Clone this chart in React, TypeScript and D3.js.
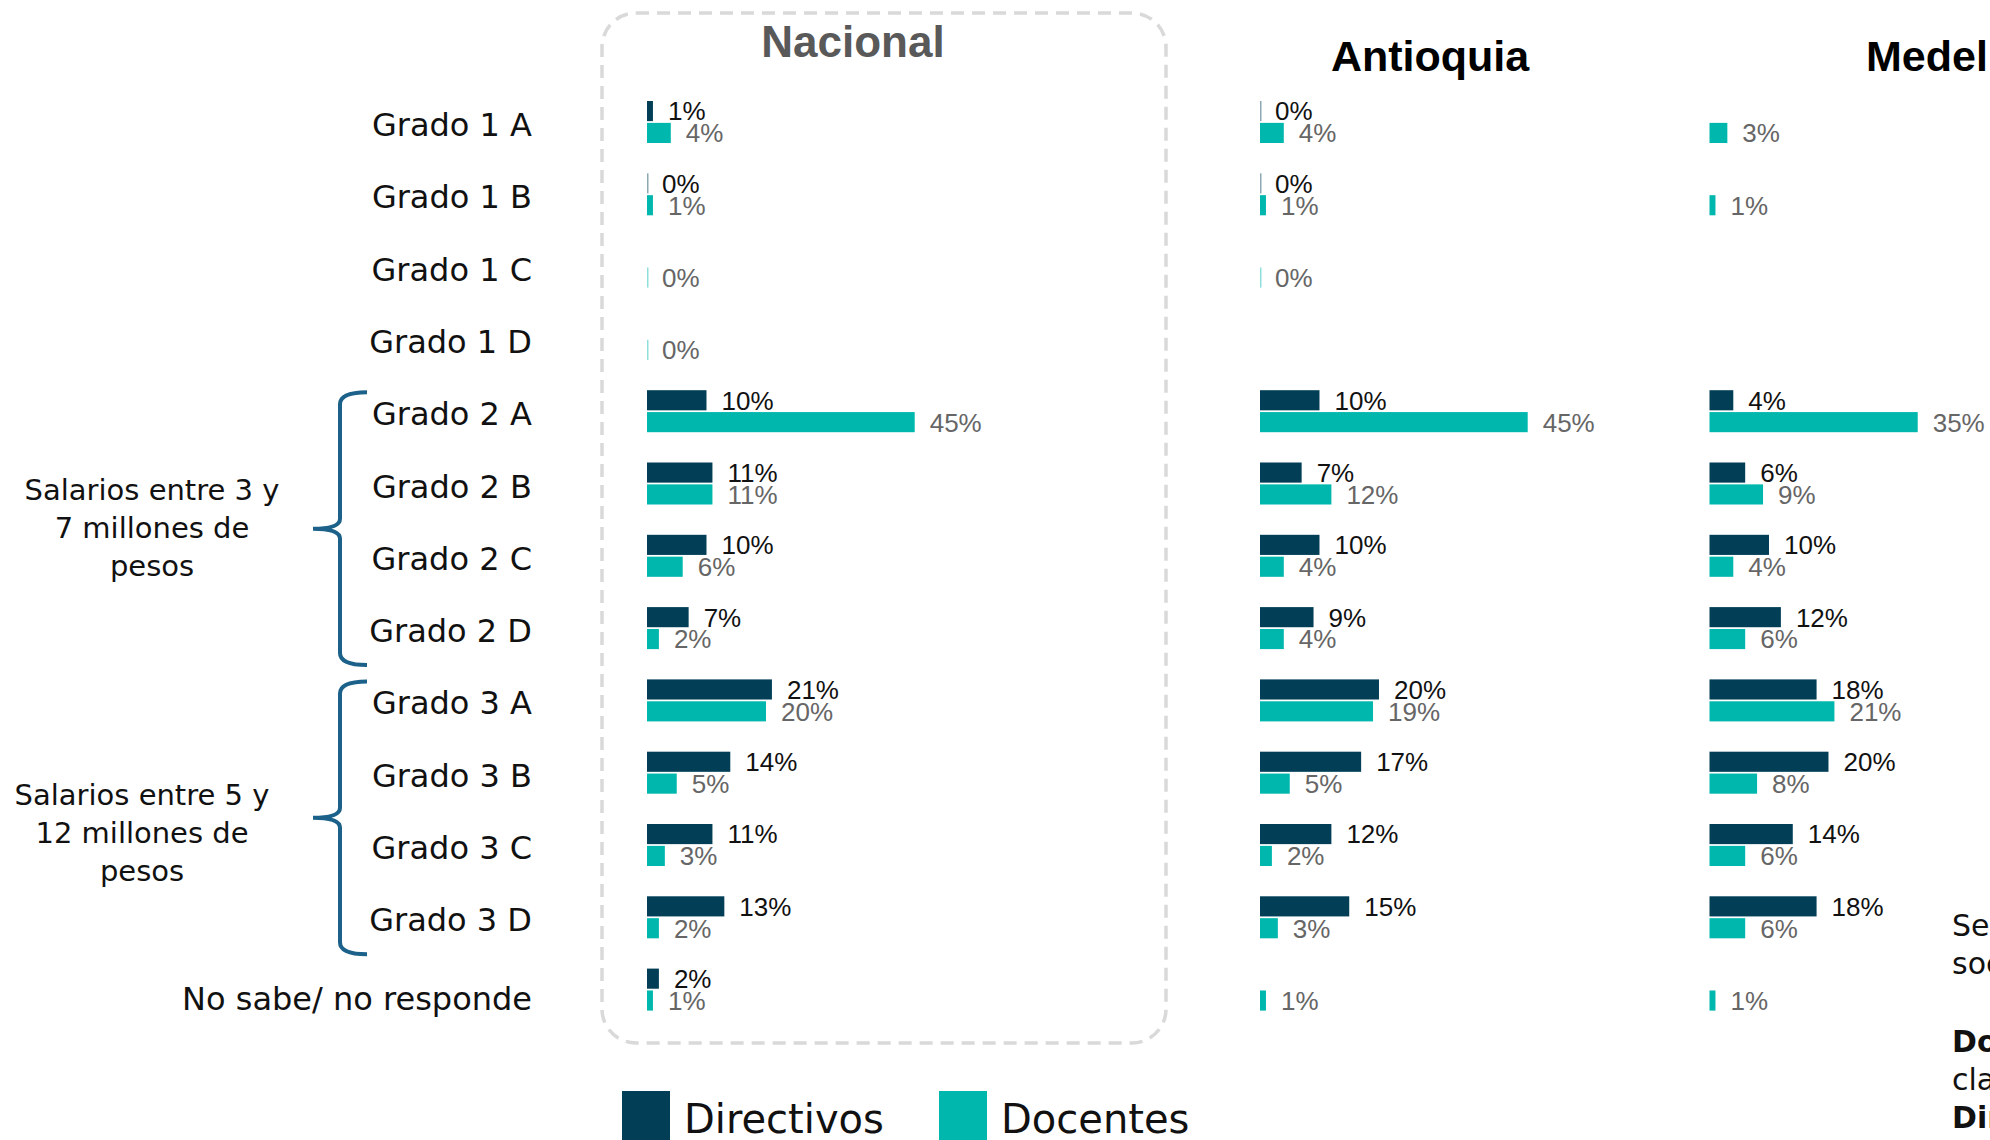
import React, { useEffect } from "react";
import * as d3 from "d3";

const categories = [
  "Grado 1 A", "Grado 1 B", "Grado 1 C", "Grado 1 D",
  "Grado 2 A", "Grado 2 B", "Grado 2 C", "Grado 2 D",
  "Grado 3 A", "Grado 3 B", "Grado 3 C", "Grado 3 D",
  "No sabe/ no responde",
];
const series = ["Directivos", "Docentes"];

const nacionalDirectivos = [1, 0, null, null, 10, 11, 10, 7, 21, 14, 11, 13, 2];
const nacionalDocentes = [4, 1, 0, 0, 45, 11, 6, 2, 20, 5, 3, 2, 1];
const antioquiaDirectivos = [0, 0, null, null, 10, 7, 10, 9, 20, 17, 12, 15, null];
const antioquiaDocentes = [4, 1, 0, null, 45, 12, 4, 4, 19, 5, 2, 3, 1];
const medellinDirectivos = [null, null, null, null, 4, 6, 10, 12, 18, 20, 14, 18, null];
const medellinDocentes = [3, 1, null, null, 35, 9, 4, 6, 21, 8, 6, 6, 1];

const panelNames = ["Nacional", "Antioquia", "Medellín"];
const panelValues = [
  [nacionalDirectivos, nacionalDocentes],
  [antioquiaDirectivos, antioquiaDocentes],
  [medellinDirectivos, medellinDocentes],
];

const groups = [
  { lines: ["Salarios entre 3 y", "7 millones de", "pesos"], from: "Grado 2 A", to: "Grado 2 D" },
  { lines: ["Salarios entre 5 y", "12 millones de", "pesos"], from: "Grado 3 A", to: "Grado 3 D" },
];

const noteLines = [
  { text: "Se presenta la distribución", bold: false },
  { text: "socioeconómica del escalafón", bold: false },
  { text: "", bold: false },
  { text: "Docentes: según", bold: true },
  { text: "clasificación salarial", bold: false },
  { text: "Directivos: según cargo", bold: true },
];

const COLORS = { Directivos: "#023F57", Docentes: "#00B7AE" };
const LABEL_COLORS = { Directivos: "#111111", Docentes: "#666666" };
const REG = "'DejaVu Sans', sans-serif";
const ARIAL = "'Liberation Sans', Arial, sans-serif";

export default function App() {
  useEffect(() => {
    document.body.style.margin = "0";
  }, []);

  const W = 1990, H = 1140;
  const y = d3.scaleBand<string>().domain(categories).range([101, 1010.6]).paddingInner(0.419).paddingOuter(0);
  const bw = y.bandwidth();
  const ySub = d3.scaleBand<string>().domain(series).range([0, bw]).paddingInner(0.08);
  const x = d3.scaleLinear().domain([0, 45]).range([0, 267.7]);

  const panelX = [647, 1260, 1709.5];
  const titles = [
    { x: 853, y: 57, anchor: "middle", fill: "#595959", size: 44 },
    { x: 1430, y: 71, anchor: "middle", fill: "#000000", size: 43 },
    { x: 1866, y: 71, anchor: "start", fill: "#000000", size: 43 },
  ];

  const braceX = { arm: 367, mid: 340, tip: 313 };
  const groupTextX = [152, 142];
  const groupTextY = [[500, 538, 576], [805, 843, 881]];

  return (
    <svg width={W} height={H} style={{ position: "fixed", left: 0, top: 0, background: "#fff" }}>
      {/* dashed frame around Nacional */}
      <rect x={602} y={13} width={564} height={1030} rx={34} ry={34}
        fill="none" stroke="#D9D9D9" strokeWidth={3.5} strokeDasharray="13 8" />

      {/* category labels */}
      {categories.map((c, i) => (
        <text key={c} x={532} y={(y(c) as number) + bw / 2 + 14 + (i === categories.length - 1 ? 6 : 0)}
          textAnchor="end" fontFamily={REG} fontSize={32} fill="#111">{c}</text>
      ))}

      {/* braces and group labels */}
      {groups.map((g, gi) => {
        const top = (y(g.from) as number) + 2;
        const bottom = (y(g.to) as number) + bw + 16;
        const mid = (top + bottom) / 2;
        const p = d3.path();
        p.moveTo(braceX.arm, top);
        p.quadraticCurveTo(braceX.mid, top, braceX.mid, top + 12);
        p.lineTo(braceX.mid, mid - 10);
        p.quadraticCurveTo(braceX.mid, mid, braceX.tip, mid);
        p.quadraticCurveTo(braceX.mid, mid, braceX.mid, mid + 10);
        p.lineTo(braceX.mid, bottom - 12);
        p.quadraticCurveTo(braceX.mid, bottom, braceX.arm, bottom);
        return (
          <g key={gi}>
            <path d={p.toString()} fill="none" stroke="#1B6189" strokeWidth={4} />
            {g.lines.map((l, li) => (
              <text key={li} x={groupTextX[gi]} y={groupTextY[gi][li]} textAnchor="middle"
                fontFamily={REG} fontSize={29} fill="#111">{l}</text>
            ))}
          </g>
        );
      })}

      {/* panels */}
      {panelNames.map((name, pi) => (
        <g key={name} transform={`translate(${panelX[pi]},0)`}>
          <text x={titles[pi].x - panelX[pi]} y={titles[pi].y} textAnchor={titles[pi].anchor as any}
            fontFamily={ARIAL} fontWeight="bold" fontSize={titles[pi].size} fill={titles[pi].fill}>{name}</text>
          {series.map((s, si) =>
            panelValues[pi][si].map((v, ci) => {
              if (v === null || v === undefined) return null;
              const by = (y(categories[ci]) as number) + (ySub(s) as number);
              const h = ySub.bandwidth();
              const w = v === 0 ? 1.5 : x(v);
              return (
                <g key={`${s}-${ci}`}>
                  <rect x={0} y={by} width={w} height={h} fill={COLORS[s]} opacity={v === 0 ? 0.45 : 1} />
                  <text x={x(v) + 15} y={by + h / 2} dy="0.36em" fontFamily={ARIAL} fontSize={26}
                    fill={LABEL_COLORS[s]}>{`${v}%`}</text>
                </g>
              );
            })
          )}
        </g>
      ))}

      {/* legend */}
      {series.map((s, i) => {
        const lx = [622, 939][i];
        return (
          <g key={s}>
            <rect x={lx} y={1091} width={48} height={49} fill={COLORS[s]} />
            <text x={lx + 62} y={1133} fontFamily={REG} fontSize={40} fill="#111">{s}</text>
          </g>
        );
      })}

      {/* side note (cut off at right edge) */}
      {noteLines.map((n, i) => (
        <text key={i} x={1952} y={[936, 974, 1013, 1052, 1090, 1128][i]} fontFamily={REG}
          fontSize={30} fontWeight={n.bold ? "bold" : "normal"} fill="#111">{n.text}</text>
      ))}
    </svg>
  );
}
